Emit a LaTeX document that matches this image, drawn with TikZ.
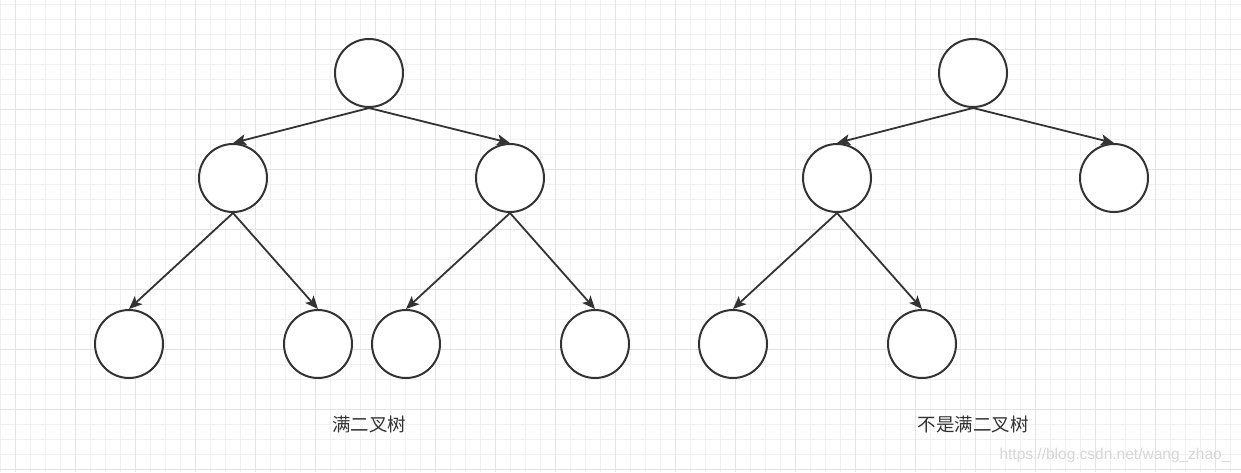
\documentclass[tikz,border=0pt]{standalone}
\usepackage{fontspec}
\setmainfont{Liberation Sans}
\newfontfamily\cjk{Noto Sans CJK SC}
\usetikzlibrary{arrows.meta}
\definecolor{inkgray}{HTML}{333333}
\definecolor{gridminor}{HTML}{F1F1F1}
\definecolor{gridmajor}{HTML}{E3E3E3}
\definecolor{markgray}{HTML}{D6D6D6}

\begin{document}
\begin{tikzpicture}[x=1pt,y=-1pt]
    \useasboundingbox (0,0) rectangle (1241,472);
    \fill[white] (0,0) rectangle (1241,472);
    % background grid
    \foreach \gx in {0,15,...,1240} \draw[gridminor,line width=1pt] (\gx,0) -- (\gx,472);
    \foreach \gy in {4,19,...,471} \draw[gridminor,line width=1pt] (0,\gy) -- (1241,\gy);
    \foreach \gx in {15,75,...,1240} \draw[gridmajor,line width=1pt] (\gx,0) -- (\gx,472);
    \foreach \gy in {49,109,...,471} \draw[gridmajor,line width=1pt] (0,\gy) -- (1241,\gy);

    \begin{scope}[every node/.style={circle,draw=inkgray,fill=white,line width=2pt,minimum size=68pt,inner sep=0pt}]
        % full binary tree
        \node (R) at (369,73) {};
        \node (L) at (233,178) {};
        \node (Rt) at (510,178) {};
        \node (LL) at (129,344) {};
        \node (LR) at (318,344) {};
        \node (RL) at (406,344) {};
        \node (RR) at (595,344) {};
        % not a full binary tree
        \node (S) at (973,73) {};
        \node (SL) at (837,178) {};
        \node (SR) at (1114,178) {};
        \node (SLL) at (733,344) {};
        \node (SLR) at (922,344) {};
    \end{scope}
    \begin{scope}[every edge/.style={draw=inkgray,line width=1.8pt,-{Stealth[length=13pt,width=11pt,inset=3pt]}}]
        \path (R.south) edge (L.north);
        \path (R.south) edge (Rt.north);
        \path (L.south) edge (LL.north);
        \path (L.south) edge (LR.north);
        \path (Rt.south) edge (RL.north);
        \path (Rt.south) edge (RR.north);
        \path (S.south) edge (SL.north);
        \path (S.south) edge (SR.north);
        \path (SL.south) edge (SLL.north);
        \path (SL.south) edge (SLR.north);
    \end{scope}

    \node[text=inkgray,font=\cjk\fontsize{18.5}{22}\selectfont] (full) at (369,424) {满二叉树};
    \node[text=inkgray,font=\cjk\fontsize{18.5}{22}\selectfont] (notfull) at (973,424) {不是满二叉树};
    \node[text=markgray,font=\fontsize{15.5}{18}\selectfont,anchor=east] (mark) at (1234,455) {https://blog.csdn.net/wang\_zhao\_};
\end{tikzpicture}
\end{document}
